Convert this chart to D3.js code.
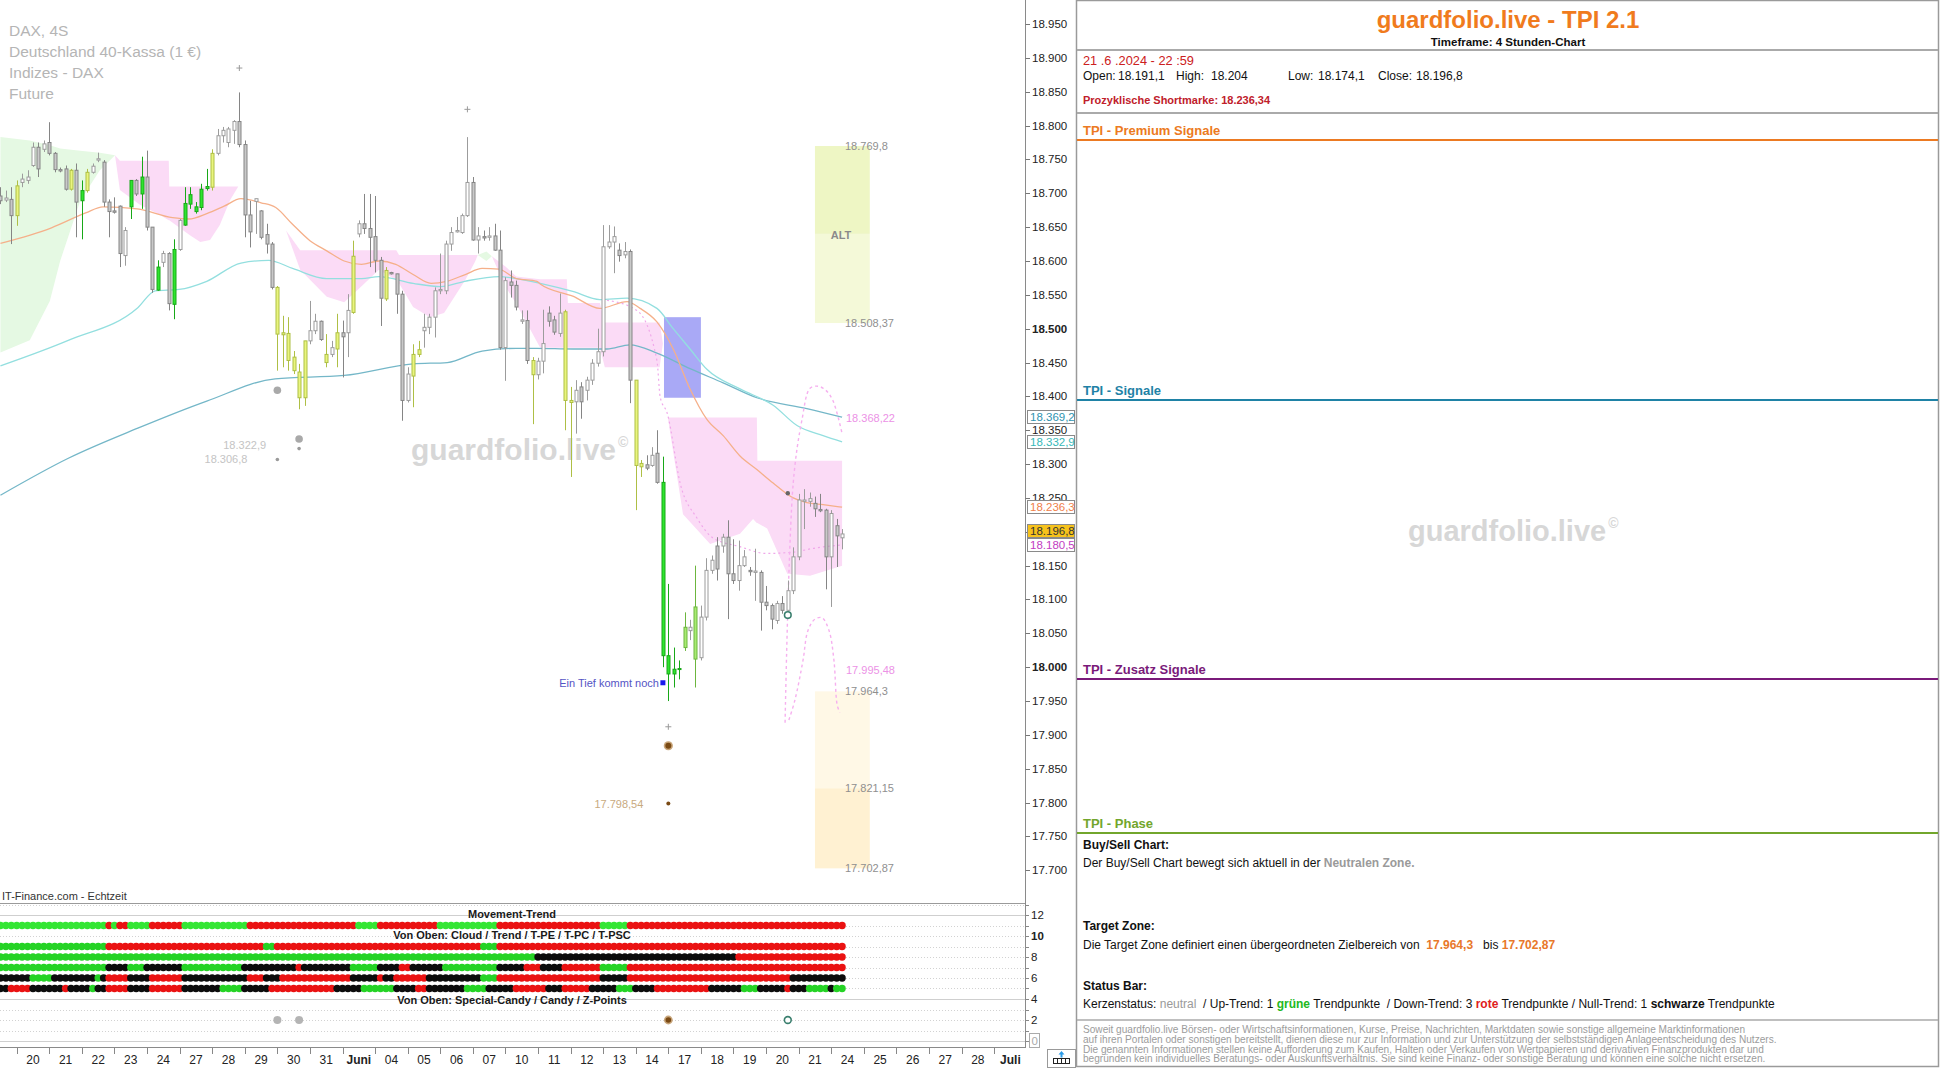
<!DOCTYPE html>
<html><head><meta charset="utf-8">
<script src="https://cdn.jsdelivr.net/npm/d3@7"></script>
<style>
html,body{margin:0;padding:0;background:#fff;}
svg{display:block;font-family:Arial,"Liberation Sans",Helvetica,sans-serif;}
</style></head>
<body><svg id="chart" width="1940" height="1068"></svg>
<script>
// ---------------- DATA ----------------
const dayLabels=["17","20","21","22","23","24","27","28","29","30","31","Juni","04","05","06","07","10","11","12","13","14","17","18","19","20","21","24","25","26","27","28","Juli"];
const boldDayLabels=["Juni","Juli"];
const priceTicks=[17700,17750,17800,17850,17900,17950,18000,18050,18100,18150,18200,18250,18300,18350,18400,18450,18500,18550,18600,18650,18700,18750,18800,18850,18900,18950];
const boldPriceTicks=[18000,18500];
const levelTicks=[0,2,4,6,8,10,12];

const candleOpen=[18696,18690,18691,18667,18716,18719,18741,18768,18765,18775,
18759,18735,18736,18706,18734,18689,18704,18731,18749,18746,
18687,18674,18681,18608,18680,18719,18699,18724,18650,18557,
18598,18611,18536,18617,18653,18684,18680,18679,18707,18709,
18759,18785,18775,18793,18806,18772,18668,18688,18674,18639,
18625,18561,18494,18493,18458,18436,18398,18482,18497,18511,
18462,18462,18470,18494,18494,18524,18640,18655,18648,18636,
18601,18544,18583,18581,18551,18394,18430,18462,18497,18502,
18517,18556,18556,18625,18643,18642,18667,18716,18631,18636,
18635,18637,18616,18472,18569,18564,18511,18512,18453,18432,
18452,18523,18513,18493,18525,18394,18392,18414,18409,18424,
18449,18466,18621,18628,18616,18609,18614,18424,18301,18299,
18298,18316,18273,18017,17990,17997,18029,18059,18012,18014,
18074,18143,18179,18179,18192,18138,18128,18150,18143,18140,
18140,18096,18091,18069,18094,18084,18113,18163,18245,18245,
18242,18233,18232,18163,18209,18191.1];
const candleHigh=[18709,18704,18709,18719,18729,18734,18775,18775,18778,18805,
18761,18738,18741,18736,18744,18719,18736,18744,18760,18749,
18691,18694,18682,18650,18719,18721,18754,18763,18650,18601,
18615,18613,18632,18662,18709,18709,18687,18714,18736,18765,
18795,18798,18798,18808,18849,18778,18689,18692,18675,18655,
18628,18563,18519,18517,18467,18448,18482,18541,18522,18512,
18492,18482,18522,18512,18551,18630,18660,18699,18699,18696,
18606,18591,18584,18581,18556,18443,18477,18482,18522,18522,
18561,18611,18630,18650,18665,18670,18783,18724,18650,18645,
18650,18655,18645,18576,18586,18571,18527,18527,18458,18457,
18528,18533,18519,18552,18528,18414,18424,18421,18429,18455,
18500,18653,18653,18651,18626,18628,18617,18424,18306,18313,
18325,18350,18311,18123,18029,18010,18081,18070,18150,18091,
18161,18165,18192,18197,18217,18189,18187,18173,18148,18175,
18143,18120,18094,18098,18105,18128,18177,18256,18263,18258,
18252,18256,18234,18232,18219,18204];
const candleLow=[18684,18687,18625,18652,18709,18714,18739,18724,18761,18756,
18731,18731,18704,18704,18635,18632,18701,18729,18746,18680,
18635,18670,18591,18593,18662,18696,18677,18645,18553,18556,
18591,18527,18514,18615,18652,18677,18670,18675,18704,18704,
18756,18775,18768,18773,18768,18635,18620,18640,18632,18611,
18558,18438,18443,18438,18433,18381,18386,18477,18492,18482,
18443,18458,18443,18428,18458,18522,18635,18640,18591,18583,
18504,18541,18580,18522,18364,18391,18384,18458,18472,18492,
18487,18551,18551,18615,18642,18640,18665,18630,18611,18630,
18630,18615,18469,18423,18546,18527,18507,18448,18359,18425,
18434,18503,18491,18488,18350,18281,18345,18367,18394,18417,
18444,18459,18618,18582,18599,18604,18390,18232,18281,18291,
18296,18271,18000,17950,17970,17982,18024,18040,17970,18010,
18069,18138,18128,18169,18071,18123,18113,18148,18135,18098,
18054,18084,18056,18064,18079,18074,18108,18158,18204,18237,
18222,18229,18115,18089,18148,18174.1];
const candleClose=[18689,18693,18667,18711,18721,18724,18768,18736,18773,18759,
18735,18733,18706,18734,18687,18704,18731,18740,18751,18687,
18673,18672,18611,18645,18719,18699,18724,18650,18558,18591,
18611,18537,18617,18660,18685,18698,18673,18706,18710,18759,
18785,18793,18795,18806,18772,18668,18643,18692,18635,18625,
18561,18492,18491,18453,18438,18398,18482,18497,18511,18484,
18450,18472,18494,18488,18527,18607,18655,18648,18635,18601,
18545,18586,18581,18551,18394,18433,18462,18469,18502,18517,
18556,18558,18625,18642,18645,18667,18716,18631,18637,18634,
18637,18616,18472,18571,18564,18532,18513,18453,18432,18452,
18478,18511,18495,18523,18394,18391,18409,18392,18424,18449,
18466,18621,18628,18636,18608,18614,18424,18298,18296,18294,
18313,18273,18017,17990,17997,17998,18059,18054,18089,18074,
18143,18158,18145,18192,18138,18128,18150,18163,18141,18142,
18096,18091,18071,18094,18084,18113,18163,18247,18247,18249,
18234,18231,18163,18227,18194,18196.8];
// w = neutral up, d = neutral down, G = green signal, y = yellow signal, l = light green
const candleType=["d","w","d","y","w","w","w","d","w","d",
"d","d","d","y","d","G","y","w","w","d",
"d","d","d","w","G","d","G","d","d","G",
"w","d","G","w","G","G","G","G","G","y",
"w","w","w","w","d","d","d","w","d","d",
"d","y","y","y","y","y","y","w","w","d",
"y","w","y","d","w","y","w","d","d","d",
"d","y","d","d","d","w","y","y","w","w",
"w","w","w","w","w","w","w","d","w","d",
"w","d","d","w","d","d","w","d","y","w",
"w","d","d","w","y","y","w","d","w","w",
"w","w","w","w","d","w","d","y","y","d",
"w","d","G","G","G","G","l","w","l","w",
"w","w","d","w","d","d","w","w","d","w",
"d","d","d","w","d","w","w","w","w","w",
"d","d","d","w","d","w"];

// moving averages [candle index, price]
const maOrange=[[0,18626],[9.4,18649],[15.7,18671],[18.9,18680],[25.2,18677],[31.7,18664],[34.7,18662],[38,18670],[41.2,18681],[44.3,18692],[48,18686],[50.7,18679],[53.7,18655],[57,18630],[60.1,18615],[63.3,18600],[66.5,18595],[69.7,18600],[72.8,18595],[76,18580],[79.3,18567],[82.2,18570],[85.6,18580],[88.7,18589],[91.8,18588],[95,18574],[98.8,18570],[99.4,18566],[105.4,18548],[110.4,18530],[115.4,18540],[117.8,18530],[120.9,18510],[123.9,18470],[127,18411],[130.1,18366],[133.1,18342],[136.2,18312],[139.3,18292],[142.3,18272],[146,18250],[148.5,18243],[151.5,18240],[155,18236.3]];
const maCyan=[[0,18445],[12.6,18483],[25.3,18531],[28.5,18556],[32.9,18558],[38,18570],[44.3,18597],[49.4,18601],[53.8,18589],[60.1,18574],[66.5,18574],[69.7,18577],[76,18567],[81.1,18562],[85.5,18570],[91.9,18577],[95,18574],[99.4,18567],[105.4,18555],[110.4,18543],[115.4,18545],[120.9,18530],[123.9,18500],[127,18470],[130.1,18440],[136.2,18411],[142.3,18387],[146.7,18357],[151.5,18342],[155,18332.9]];
const maTeal=[[0,18254],[12.6,18309],[25.3,18353],[38,18393],[50.6,18426],[63.3,18431],[76,18448],[82.3,18450],[88.7,18467],[95,18471],[98.8,18471],[105.4,18470],[111.7,18470],[115.9,18476],[120.9,18464],[127,18441],[133.1,18420],[139.3,18398],[148.5,18382],[155,18369.2]];

// cloud segments [candle index, upper span, lower span]
const cloudGreen=[[0,18783,18465],[5.4,18778,18483],[9.1,18771,18541],[11,18766,18600],[14.7,18763,18689],[18.3,18760,18734],[21.1,18756,18756]];
const cloudPinkA=[[21.1,18756,18756],[22,18748,18705],[25.7,18748,18683],[29.4,18748,18668],[31,18748,18660],[31.1,18710,18660],[32.3,18710,18653],[34.9,18710,18638],[36.8,18710,18628],[38.6,18710,18631],[40.4,18710,18653],[42.3,18710,18690],[43.8,18710,18710]];
const cloudPinkB=[[52.6,18645,18645],[55.2,18616,18587],[60.1,18616,18547],[63.3,18616,18539],[66.4,18616,18562],[69.7,18616,18587],[72.9,18616,18572],[73.4,18609,18567],[76,18609,18532],[79.1,18609,18517],[81.7,18609,18523],[85.6,18609,18572],[87.4,18609,18599],[87.9,18609,18609]];
const cloudGreenB=[[87.9,18609,18609],[89.5,18614,18600],[90.5,18607,18607]];
const cloudPinkC=[[90.5,18607,18607],[93,18592,18562],[95,18577,18537],[99.4,18573,18472],[104.3,18573,18472],[104.5,18538,18472],[110.4,18538,18472],[111.3,18509,18443],[121.4,18509,18443],[122,18478,18478]];
const cloudPinkD=[[122.9,18369,18369],[125.7,18369,18226],[130.7,18369,18182],[136.2,18369,18197],[138.6,18369,18219],[139.3,18369,18213],[139.4,18305,18213],[141.2,18305,18205],[144.9,18305,18138],[149.1,18305,18135],[155,18305,18150]];
const kijunLine=[[111.7,18542],[117.2,18527],[120.9,18453],[121.5,18399],[122.8,18375],[125.2,18271],[128.3,18220],[131.2,18191],[136.2,18178],[141,18168],[146,18170],[150,18176],[155,18180.5]];
const projUpper=[[144.5,17918],[146,18272],[147.6,18365],[149.1,18412],[150.6,18415],[152,18409],[153.3,18394],[155,18345]];
const projLower=[[145.2,17922],[146.3,17951],[147.8,18010],[148.7,18054],[150,18071],[151.3,18073],[152.6,18054],[153.5,18010],[154.1,17944],[154.6,17933]];

// zones [start index, end index, prices top..bottom]
const zoneBlue=[122.2,129,18517,18398];
const zoneAlt=[150,160.1,18769.8,18640,18508.37];
const zoneTarget=[150,160.1,17964.3,17821.15,17702.87];
const zoneTexts=[["18.769,8",18769.8],["18.508,37",18508.37],["17.964,3",17964.3],["17.821,15",17821.15],["17.702,87",17702.87]];
const forecastTexts=[["18.368,22",18368.22],["17.995,48",17995.48]];

// markers [candle index, price]
const plusMarks=[[44,18885],[86,18824],[123,17912]];
const grayDotsBig=[[51,18409],[55,18337]];
const grayDotsSmall=[[51,18306.8],[55,18322.9]];
const grayDotLabels=["18.306,8","18.322,9"];
const brownDot=[123,17884];
const brownSmall=[123,17798.54];
const blueSquare=[122,17977];
const darkDot=[145,18257];
const tealRing=[145,18077];

// axis value boxes
const axisBoxValues=[18369.2,18332.9,18236.3,18196.8,18180.5];
const axisBoxTexts=["18.369,2","18.332,9","18.236,3","18.196,8","18.180,5"];

// trend rows (run-length: colour, number of candles)
const rowMovement=[["g",20],["r",1],["g",1],["r",2],["g",4],["r",6],["g",12],["r",20],["g",4],["r",11],["g",11],["r",19],["g",5],["r",40]];
const rowCloud=[["g",20],["r",29],["g",2],["r",38],["g",3],["r",64]];
const rowTrend=[["g",99],["k",37],["r",20]];
const rowTPE=[["g",20],["k",4],["g",3],["k",7],["g",11],["k",10],["r",1],["k",9],["g",5],["k",4],["r",2],["k",6],["g",10],["k",5],["r",3],["k",4],["r",7],["g",5],["r",40]];
const rowTPC=[["k",6],["g",4],["k",8],["g",1],["k",1],["r",4],["k",4],["r",6],["k",12],["r",3],["k",3],["r",13],["k",5],["r",1],["k",2],["r",6],["k",10],["g",3],["r",19],["k",5],["r",30],["k",10]];
const rowTPSC=[["k",2],["r",4],["k",6],["r",1],["k",4],["g",1],["k",2],["r",4],["k",4],["r",6],["k",7],["g",4],["k",5],["r",12],["k",5],["g",6],["k",4],["r",2],["k",7],["g",4],["k",5],["r",6],["k",3],["r",5],["k",5],["g",3],["k",4],["r",10],["k",6],["g",3],["k",5],["r",1],["k",3],["g",4],["k",1],["g",2]];
const rowLevels=[11,9,8,7,6,5];
const specialGray=[51,55];
const specialBrown=[123];
const specialRing=[145];

// ---------------- SCALES ----------------
const svg=d3.select("#chart");
const x=d3.scaleLinear().domain([0,186]).range([0.43,1010.43]);
const y=d3.scaleLinear().domain([17651.7,18985.5]).range([903,0]);
const yL=d3.scaleLinear().domain([0,12]).range([1041,915]);
const loc=d3.formatLocale({decimal:",",thousands:".",grouping:[3],currency:["","€"]});
const fmtInt=loc.format(",.0f");

const defs=svg.append("defs");
defs.append("clipPath").attr("id","plotClip").append("rect").attr("x",0).attr("y",0).attr("width",1025).attr("height",903);
defs.append("clipPath").attr("id","indClip").append("rect").attr("x",0).attr("y",904).attr("width",1025).attr("height",143);

// ---------------- MAIN PLOT ----------------
const gm=svg.append("g").attr("clip-path","url(#plotClip)");
const area=d3.area().x(d=>x(d[0])).y0(d=>y(d[2])).y1(d=>y(d[1]));
const pink="#fbdbf6", green="#e5f9e3";
[[cloudGreen,green],[cloudPinkA,pink],[cloudPinkB,pink],[cloudGreenB,green],[cloudPinkC,pink],[cloudPinkD,pink]].forEach(([d,c])=>{
  gm.append("path").datum(d).attr("d",area).attr("fill",c);
});
function zoneRect(x0,x1,pTop,pBot,fill){
  gm.append("rect").attr("x",x(x0)).attr("width",x(x1)-x(x0)).attr("y",y(pTop)).attr("height",y(pBot)-y(pTop)).attr("fill",fill);
}
zoneRect(zoneAlt[0],zoneAlt[1],zoneAlt[2],zoneAlt[3],"#eef6c4");
zoneRect(zoneAlt[0],zoneAlt[1],zoneAlt[3],zoneAlt[4],"#f4f9d8");
zoneRect(zoneTarget[0],zoneTarget[1],zoneTarget[2],zoneTarget[3],"#fff8e6");
zoneRect(zoneTarget[0],zoneTarget[1],zoneTarget[3],zoneTarget[4],"#fff1d2");
zoneRect(zoneBlue[0],zoneBlue[1],zoneBlue[2],zoneBlue[3],"#a9a9f6");

// watermark
const wm=gm.append("text").attr("x",411).attr("y",460).attr("font-size",30).attr("font-weight","bold").attr("fill","#d7d7d7").text("guardfolio.live");
wm.append("tspan").attr("font-size",14).attr("dy",-13).attr("dx",2).text("©");

// lines
const line=d3.line().x(d=>x(d[0])).y(d=>y(d[1])).curve(d3.curveMonotoneX);
gm.append("path").datum(maTeal).attr("d",line).attr("fill","none").attr("stroke","#74b7c8").attr("stroke-width",1.3);
gm.append("path").datum(maCyan).attr("d",line).attr("fill","none").attr("stroke","#93dfdf").attr("stroke-width",1.3);
gm.append("path").datum(maOrange).attr("d",line).attr("fill","none").attr("stroke","#f5b08a").attr("stroke-width",1.3);
gm.append("path").datum(kijunLine).attr("d",line).attr("fill","none").attr("stroke","#f0a8ea").attr("stroke-width",1.2).attr("stroke-dasharray","2,3");
const line2=d3.line().x(d=>x(d[0])).y(d=>y(d[1])).curve(d3.curveCatmullRom);
gm.append("path").datum(projUpper).attr("d",line2).attr("fill","none").attr("stroke","#f6b0ef").attr("stroke-width",1.4).attr("stroke-dasharray","3,3");
gm.append("path").datum(projLower).attr("d",line2).attr("fill","none").attr("stroke","#f6b0ef").attr("stroke-width",1.4).attr("stroke-dasharray","3,3");

// candles
const cStyle={w:{f:"#ffffff",s:"#9c9c9c"},d:{f:"#c9c9c9",s:"#858585"},G:{f:"#2ee52e",s:"#18a818"},y:{f:"#e9f57e",s:"#aebf45"},l:{f:"#a8eb72",s:"#6cb63e"}};
const idx=d3.range(candleOpen.length);
const gc=gm.append("g");
gc.selectAll("line").data(idx).join("line")
  .attr("x1",i=>Math.round(x(i))+0.5).attr("x2",i=>Math.round(x(i))+0.5)
  .attr("y1",i=>y(candleHigh[i])).attr("y2",i=>y(candleLow[i]))
  .attr("stroke",i=>cStyle[candleType[i]].s).attr("stroke-width",1);
gc.selectAll("rect").data(idx).join("rect")
  .attr("x",i=>Math.round(x(i))-1)
  .attr("width",3)
  .attr("y",i=>y(Math.max(candleOpen[i],candleClose[i])))
  .attr("height",i=>Math.max(1,Math.abs(y(candleOpen[i])-y(candleClose[i]))))
  .attr("fill",i=>cStyle[candleType[i]].f).attr("stroke",i=>cStyle[candleType[i]].s).attr("stroke-width",1);

// markers
plusMarks.forEach(([i,p])=>{
  const cx=x(i),cy=y(p);
  gm.append("path").attr("d",`M${cx-3},${cy}H${cx+3}M${cx},${cy-3}V${cy+3}`).attr("stroke","#9a9a9a").attr("stroke-width",1);
});
grayDotsBig.forEach(([i,p])=>gm.append("circle").attr("cx",x(i)).attr("cy",y(p)).attr("r",3.8).attr("fill","#a9a9a9"));
grayDotsSmall.forEach(([i,p],k)=>{
  gm.append("circle").attr("cx",x(i)).attr("cy",y(p)).attr("r",1.8).attr("fill","#9a9a9a");
  gm.append("text").attr("x",x(i)-(k===0?30:33)).attr("y",y(p)+(k===0?4:0)).attr("text-anchor","end").attr("font-size",11).attr("fill","#c4c4c4").text(grayDotLabels[k]);
});
gm.append("circle").attr("cx",x(brownDot[0])).attr("cy",y(brownDot[1])).attr("r",4.6).attr("fill","#c8a57a");
gm.append("circle").attr("cx",x(brownDot[0])).attr("cy",y(brownDot[1])).attr("r",3).attr("fill","#7a4a14");
gm.append("circle").attr("cx",x(brownSmall[0])).attr("cy",y(brownSmall[1])).attr("r",2).attr("fill","#7a4a14");
gm.append("text").attr("x",x(brownSmall[0])-25).attr("y",y(brownSmall[1])+4).attr("text-anchor","end").attr("font-size",11).attr("fill","#c8aa80").text("17.798,54");
gm.append("rect").attr("x",x(blueSquare[0])-2.5).attr("y",y(blueSquare[1])-2.5).attr("width",5).attr("height",5).attr("fill","#1a1aee");
gm.append("text").attr("x",x(blueSquare[0])-4).attr("y",y(blueSquare[1])+4).attr("text-anchor","end").attr("font-size",11).attr("fill","#5454c4").text("Ein Tief kommt noch");
gm.append("circle").attr("cx",x(darkDot[0])).attr("cy",y(darkDot[1])).attr("r",2.2).attr("fill","#666");
gm.append("circle").attr("cx",x(tealRing[0])).attr("cy",y(tealRing[1])).attr("r",3.3).attr("fill","#fff").attr("stroke","#3a7f6e").attr("stroke-width",1.6);

// zone labels
zoneTexts.forEach(([t,p])=>gm.append("text").attr("x",845).attr("y",y(p)+4).attr("font-size",11).attr("fill","#8f8f8f").text(t));
forecastTexts.forEach(([t,p])=>gm.append("text").attr("x",846).attr("y",y(p)+4).attr("font-size",11).attr("fill","#ec92e6").text(t));
gm.append("text").attr("x",841).attr("y",239).attr("text-anchor","middle").attr("font-size",11).attr("font-weight","bold").attr("fill","#8a8a8a").text("ALT");

// info text
["DAX, 4S","Deutschland 40-Kassa (1 €)","Indizes - DAX","Future"].forEach((t,k)=>{
  svg.append("text").attr("x",9).attr("y",36+k*20.9).attr("font-size",15.5).attr("fill","#b5b5b5").text(t);
});

// ---------------- PRICE AXIS ----------------
const ga=svg.append("g");
ga.append("line").attr("x1",1025.5).attr("x2",1025.5).attr("y1",0).attr("y2",1048).attr("stroke","#8a8a8a");
// place value boxes, pushing upper boxes up when they would overlap
const boxY=axisBoxValues.map(v=>y(v));
for(let k=boxY.length-2;k>=0;k--){ if(boxY[k+1]-boxY[k]<14) boxY[k]=boxY[k+1]-14; }
priceTicks.forEach(p=>{
  ga.append("line").attr("x1",1025.5).attr("x2",1030).attr("y1",Math.round(y(p))+0.5).attr("y2",Math.round(y(p))+0.5).attr("stroke","#777");
  const hidden=boxY.some(b=>Math.abs(b-y(p))<6);
  if(!hidden) ga.append("text").attr("x",1032).attr("y",y(p)+4).attr("font-size",11.5).attr("fill","#222")
    .attr("font-weight",boldPriceTicks.includes(p)?"bold":"normal").text(fmtInt(p));
});
const boxStyle=[{f:"#fff",t:"#2f93b0"},{f:"#fff",t:"#36b8b8"},{f:"#fff",t:"#f0804a"},{f:"#f6c21c",t:"#333"},{f:"#fff",t:"#c23cc2"}];
axisBoxValues.forEach((v,k)=>{
  const cy=Math.round(boxY[k]);
  ga.append("rect").attr("x",1027.5).attr("y",cy-6.5).attr("width",47).attr("height",13).attr("fill",boxStyle[k].f).attr("stroke","#8a8a8a");
  ga.append("text").attr("x",1030).attr("y",cy+4).attr("font-size",11.5).attr("fill",boxStyle[k].t).text(axisBoxTexts[k]);
});

// ---------------- INDICATOR PANEL ----------------
svg.append("text").attr("x",2).attr("y",900).attr("font-size",11).attr("fill","#333").text("IT-Finance.com - Echtzeit");
svg.append("line").attr("x1",0).attr("x2",1025).attr("y1",903.5).attr("y2",903.5).attr("stroke","#9a9a9a");
const gi=svg.append("g");
d3.range(1,14).forEach(l=>{
  gi.append("line").attr("x1",0).attr("x2",1025).attr("y1",Math.round(yL(l))+0.5).attr("y2",Math.round(yL(l))+0.5)
    .attr("stroke","#d2d2d2").attr("stroke-dasharray","1,2");
});
[12,4,0].forEach(l=>gi.append("line").attr("x1",0).attr("x2",1025).attr("y1",Math.round(yL(l))+0.5).attr("y2",Math.round(yL(l))+0.5).attr("stroke","#cfcfcf"));
svg.append("line").attr("x1",0).attr("x2",1025).attr("y1",1047.5).attr("y2",1047.5).attr("stroke","#8a8a8a");
const rowColors={g:"#25d325",r:"#ea1212",k:"#0c0c0c"};
function expandRuns(runs){const out=[];runs.forEach(([c,n])=>{for(let k=0;k<n;k++)out.push(c);});return out;}
const gRows=svg.append("g").attr("clip-path","url(#indClip)");
[rowMovement,rowCloud,rowTrend,rowTPE,rowTPC,rowTPSC].forEach((runs,r)=>{
  const cols=expandRuns(runs);
  gRows.selectAll(null).data(cols).join("circle")
    .attr("cx",(c,i)=>x(i)).attr("cy",yL(rowLevels[r])).attr("r",3.7)
    .attr("fill",c=>r===0&&c==="g"?"#34e634":rowColors[c]);
});
specialGray.forEach(i=>gRows.append("circle").attr("cx",x(i)).attr("cy",yL(2)).attr("r",4).attr("fill","#b4b4b4"));
specialBrown.forEach(i=>{gRows.append("circle").attr("cx",x(i)).attr("cy",yL(2)).attr("r",4.4).attr("fill","#c8a57a");gRows.append("circle").attr("cx",x(i)).attr("cy",yL(2)).attr("r",2.8).attr("fill","#7a4a14");});
specialRing.forEach(i=>gRows.append("circle").attr("cx",x(i)).attr("cy",yL(2)).attr("r",3.4).attr("fill","#fff").attr("stroke","#3a7f6e").attr("stroke-width",1.6));
[["Movement-Trend",12.05],["Von Oben: Cloud / Trend / T-PE / T-PC / T-PSC",10.05],["Von Oben: Special-Candy / Candy / Z-Points",3.9]].forEach(([t,l])=>{
  svg.append("text").attr("x",512).attr("y",yL(l)+4).attr("text-anchor","middle").attr("font-size",11).attr("font-weight","bold").attr("fill","#1a1a1a").text(t);
});
d3.range(0,14).forEach(l=>svg.append("line").attr("x1",1025.5).attr("x2",1029).attr("y1",Math.round(yL(l))+0.5).attr("y2",Math.round(yL(l))+0.5).attr("stroke","#888"));
levelTicks.forEach(l=>{
  if(l===0){
    svg.append("rect").attr("x",1029.5).attr("y",yL(0)-7.5).attr("width",10).attr("height",14).attr("fill","#fff").attr("stroke","#aaa");
    svg.append("text").attr("x",1031.5).attr("y",yL(0)+4).attr("font-size",11.5).attr("fill","#aaa").text("0");
  } else {
    svg.append("text").attr("x",1031).attr("y",yL(l)+4).attr("font-size",11.5).attr("fill","#222").attr("font-weight",l===10?"bold":"normal").text(l);
  }
});

// ---------------- TIME AXIS ----------------
dayLabels.forEach((t,d)=>{
  if(d>0) svg.append("text").attr("x",x(d*6)).attr("y",1064).attr("text-anchor","middle").attr("font-size",12)
    .attr("font-weight",boldDayLabels.includes(t)?"bold":"normal").attr("fill","#222").text(t);
  if(d<31) svg.append("line").attr("x1",Math.round(x(d*6+3))+0.5).attr("x2",Math.round(x(d*6+3))+0.5).attr("y1",1048).attr("y2",1054).attr("stroke","#888");
});
// corner icon
svg.append("rect").attr("x",1047.5).attr("y",1049.5).attr("width",28).attr("height",18).attr("fill","#fff").attr("stroke","#999");
svg.append("rect").attr("x",1053.5).attr("y",1058.5).attr("width",16).attr("height",5).attr("fill","#fff").attr("stroke","#222");
[1057.5,1061.5,1065.5].forEach(xx=>svg.append("line").attr("x1",xx).attr("x2",xx).attr("y1",1058).attr("y2",1064).attr("stroke","#222"));
svg.append("path").attr("d","M1061.5,1051 l-3,3.5 h2 v3 h2 v-3 h2 z").attr("fill","#2b9be8");

// ---------------- RIGHT PANEL ----------------
const rp=svg.append("g");
rp.append("rect").attr("x",1076.5).attr("y",0.5).attr("width",862).attr("height",1066).attr("fill","none").attr("stroke","#9a9a9a").attr("stroke-width",1.5);
rp.append("text").attr("x",1508).attr("y",28).attr("text-anchor","middle").attr("font-size",24).attr("font-weight","bold").attr("fill","#f07b1d").text("guardfolio.live - TPI 2.1");
rp.append("text").attr("x",1508).attr("y",45.5).attr("text-anchor","middle").attr("font-size",11.5).attr("font-weight","bold").attr("fill","#111").text("Timeframe: 4 Stunden-Chart");
[50,113].forEach(yy=>rp.append("line").attr("x1",1077).attr("x2",1938).attr("y1",yy).attr("y2",yy).attr("stroke","#aaa").attr("stroke-width",2));
rp.append("text").attr("x",1083).attr("y",65).attr("font-size",12.8).attr("fill","#cc2020").text("21 .6 .2024 - 22 :59");
[["Open:",1083],["18.191,1",1118],["High:",1176],["18.204",1211],["Low:",1288],["18.174,1",1318],["Close:",1378],["18.196,8",1416]].forEach(([t,xx])=>{
  rp.append("text").attr("x",xx).attr("y",79.5).attr("font-size",12).attr("fill","#111").text(t);
});
rp.append("text").attr("x",1083).attr("y",104).attr("font-size",11).attr("font-weight","bold").attr("fill","#c0202a").text("Prozyklische Shortmarke: 18.236,34");
const sections=[["TPI - Premium Signale","#ec7a22",134.5,140],["TPI - Signale","#1f82a6",395,400],["TPI - Zusatz Signale","#7a1a7a",674,679],["TPI - Phase","#72a62c",827.5,833]];
sections.forEach(([t,c,ty,ly])=>{
  rp.append("text").attr("x",1083).attr("y",ty).attr("font-size",13).attr("font-weight","bold").attr("fill",c).text(t);
  rp.append("line").attr("x1",1077).attr("x2",1938).attr("y1",ly).attr("y2",ly).attr("stroke",c).attr("stroke-width",2);
});
function richLine(yy,parts,size){
  const t=rp.append("text").attr("x",1083).attr("y",yy).attr("font-size",size||12).attr("fill","#111").attr("xml:space","preserve");
  parts.forEach(([s,c,b])=>t.append("tspan").attr("fill",c||"#111").attr("font-weight",b?"bold":"normal").text(s));
}
richLine(849,[["Buy/Sell Chart:","#111",true]]);
richLine(867,[["Der Buy/Sell Chart bewegt sich aktuell in der "],["Neutralen Zone.","#9a9a9a",true]]);
richLine(930,[["Target Zone:","#111",true]]);
richLine(949,[["Die Target Zone definiert einen übergeordneten Zielbereich von  "],["17.964,3","#e8782a",true],["   bis "],["17.702,87","#e8782a",true]]);
richLine(990,[["Status Bar:","#111",true]]);
richLine(1008,[["Kerzenstatus: "],["neutral","#9a9a9a"],["  / Up-Trend: 1 "],["grüne","#22b822",true],[" Trendpunkte  / Down-Trend: 3 "],["rote","#e02020",true],[" Trendpunkte / Null-Trend: 1 "],["schwarze","#111",true],[" Trendpunkte"]]);
rp.append("line").attr("x1",1077).attr("x2",1938).attr("y1",1020).attr("y2",1020).attr("stroke","#aaa").attr("stroke-width",1.5);
["Soweit guardfolio.live Börsen- oder Wirtschaftsinformationen, Kurse, Preise, Nachrichten, Marktdaten sowie sonstige allgemeine Marktinformationen",
 "auf ihren Portalen oder sonstigen bereitstellt, dienen diese nur zur Information und zur Unterstützung der selbstständigen Anlageentscheidung des Nutzers.",
 "Die genannten Informationen stellen keine Aufforderung zum Kaufen, Halten oder Verkaufen von Wertpapieren und derivativen Finanzprodukten dar und",
 "begründen kein individuelles Beratungs- oder Auskunftsverhältnis. Sie sind keine Finanz- oder sonstige Beratung und können eine solche nicht ersetzen."].forEach((t,k)=>{
  rp.append("text").attr("x",1083).attr("y",1033+k*9.8).attr("font-size",10.1).attr("fill","#9c9c9c").text(t);
});
const wm2=rp.append("text").attr("x",1408).attr("y",541).attr("font-size",29).attr("font-weight","bold").attr("fill","#d7d7d7").text("guardfolio.live");
wm2.append("tspan").attr("font-size",14).attr("dy",-13).attr("dx",2).text("©");
</script></body></html>
